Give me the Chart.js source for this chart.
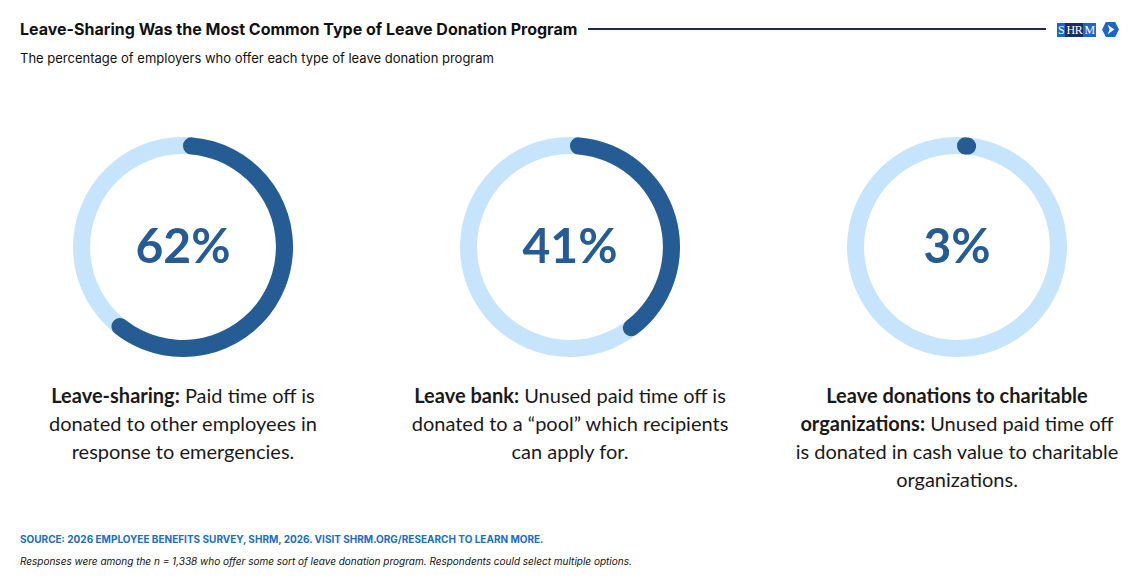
<!DOCTYPE html>
<html>
<head>
<meta charset="utf-8">
<script src="https://cdn.jsdelivr.net/npm/chart.js@4"></script>
<style>
  html, body { margin: 0; padding: 0; background: #fff; }
  body { width: 1139px; height: 588px; position: relative; overflow: hidden; font-family: Inter, sans-serif; color: #111; }
  .title { position: absolute; left: 20px; top: 19px; font-size: 16px; font-weight: 700; }
  .rule { position: absolute; left: 588px; top: 28px; width: 458px; height: 2px; background: #1b2a52; }
  .subtitle { position: absolute; left: 20px; top: 50px; font-size: 13px; }
  .logo { position: absolute; left: 1057px; top: 23px; width: 38px; height: 14px; display: flex; font-family: "Liberation Serif", serif; font-size: 12px; line-height: 14px; color: #fff; letter-spacing: -0.3px; }
  .logo span { padding: 0 1px; text-align: center; }
  .logo .a { background: #1c67c6; }
  .logo .b { background: #1b2d5c; }
  .icon { position: absolute; left: 1102px; top: 22px; }
  .donut { position: absolute; top: 137px; width: 220px; height: 220px; }
  .desc { position: absolute; top: 381px; width: 380px; text-align: center; font-family: Lato, sans-serif; font-size: 20px; line-height: 28px; color: #1a1a1a; }
  .desc b { font-weight: 700; }
  .source { position: absolute; left: 20px; top: 533px; font-size: 10px; font-weight: 700; color: #1a6dc1; }
  .note { position: absolute; left: 20px; top: 555px; font-size: 10px; font-style: italic; color: #111; }
</style>
</head>
<body>
<div class="title">Leave-Sharing Was the Most Common Type of Leave Donation Program</div>
<div class="rule"></div>
<div class="logo"><span class="a">S</span><span class="b">HR</span><span class="a">M</span></div>
<svg class="icon" width="17" height="15" viewBox="0 0 18 16">
  <polygon points="4,0 14,0 18,8 14,16 4,16 0,8" fill="#1c67c6"/>
  <polygon points="6,3 13,8 6,13 8,8" fill="#fff"/>
</svg>
<div class="subtitle">The percentage of employers who offer each type of leave donation program</div>

<div id="charts"></div>

<div class="source">SOURCE: 2026 EMPLOYEE BENEFITS SURVEY, SHRM, 2026. VISIT SHRM.ORG/RESEARCH TO LEARN MORE.</div>
<div class="note">Responses were among the n = 1,338 who offer some sort of leave donation program. Respondents could select multiple options.</div>

<script>
// Data
const programs = ['Leave-sharing', 'Leave bank', 'Leave donations to charitable organizations'];
const shares = [62, 41, 3];
const descriptions = [
    '<b>Leave-sharing:</b> Paid time off is<br>donated to other employees in<br>response to emergencies.',
    '<b>Leave bank:</b> Unused paid time off is<br>donated to a \u201cpool\u201d which recipients<br>can apply for.',
    '<b>Leave donations to charitable<br>organizations:</b> Unused paid time off<br>is donated in cash value to charitable<br>organizations.'
];

const centers = [183, 570, 957];
const darkBlue = '#255c93';
const lightBlue = '#c6e4fb';

// Light full ring behind the arc + the percentage in the middle
const trackPlugin = {
    id: 'track',
    beforeDatasetsDraw(chart) {
        const arc = chart.getDatasetMeta(0).data[0];
        const ctx = chart.ctx;
        ctx.save();
        ctx.beginPath();
        ctx.arc(arc.x, arc.y, arc.outerRadius, 0, Math.PI * 2);
        ctx.arc(arc.x, arc.y, arc.innerRadius, 0, Math.PI * 2, true);
        ctx.fillStyle = lightBlue;
        ctx.fill();
        ctx.restore();
    },
    afterDatasetsDraw(chart) {
        const arc = chart.getDatasetMeta(0).data[0];
        const ctx = chart.ctx;
        ctx.save();
        ctx.font = '700 48px Lato, sans-serif';
        ctx.fillStyle = darkBlue;
        ctx.textAlign = 'center';
        ctx.textBaseline = 'alphabetic';
        ctx.fillText(chart.data.datasets[0].data[0] + '%', arc.x, arc.y + 16);
        ctx.restore();
    }
};

const holder = document.getElementById('charts');

programs.forEach(function (name, i) {
    const box = document.createElement('div');
    box.className = 'donut';
    box.style.left = (centers[i] - 110) + 'px';
    const canvas = document.createElement('canvas');
    box.appendChild(canvas);
    holder.appendChild(box);

    const text = document.createElement('div');
    text.className = 'desc';
    text.style.left = (centers[i] - 190) + 'px';
    text.innerHTML = descriptions[i];
    holder.appendChild(text);

    new Chart(canvas.getContext('2d'), {
        type: 'doughnut',
        data: {
            labels: [name, 'Other'],
            datasets: [{
                data: [shares[i], 100 - shares[i]],
                backgroundColor: [darkBlue, 'rgba(0,0,0,0)'],
                borderWidth: 0,
                borderRadius: [9, 0]
            }]
        },
        options: {
            responsive: true,
            maintainAspectRatio: false,
            animation: false,
            events: [],
            cutout: '84.5%',
            plugins: {
                legend: { display: false },
                tooltip: { enabled: false }
            }
        },
        plugins: [trackPlugin]
    });
});
</script>
</body>
</html>
